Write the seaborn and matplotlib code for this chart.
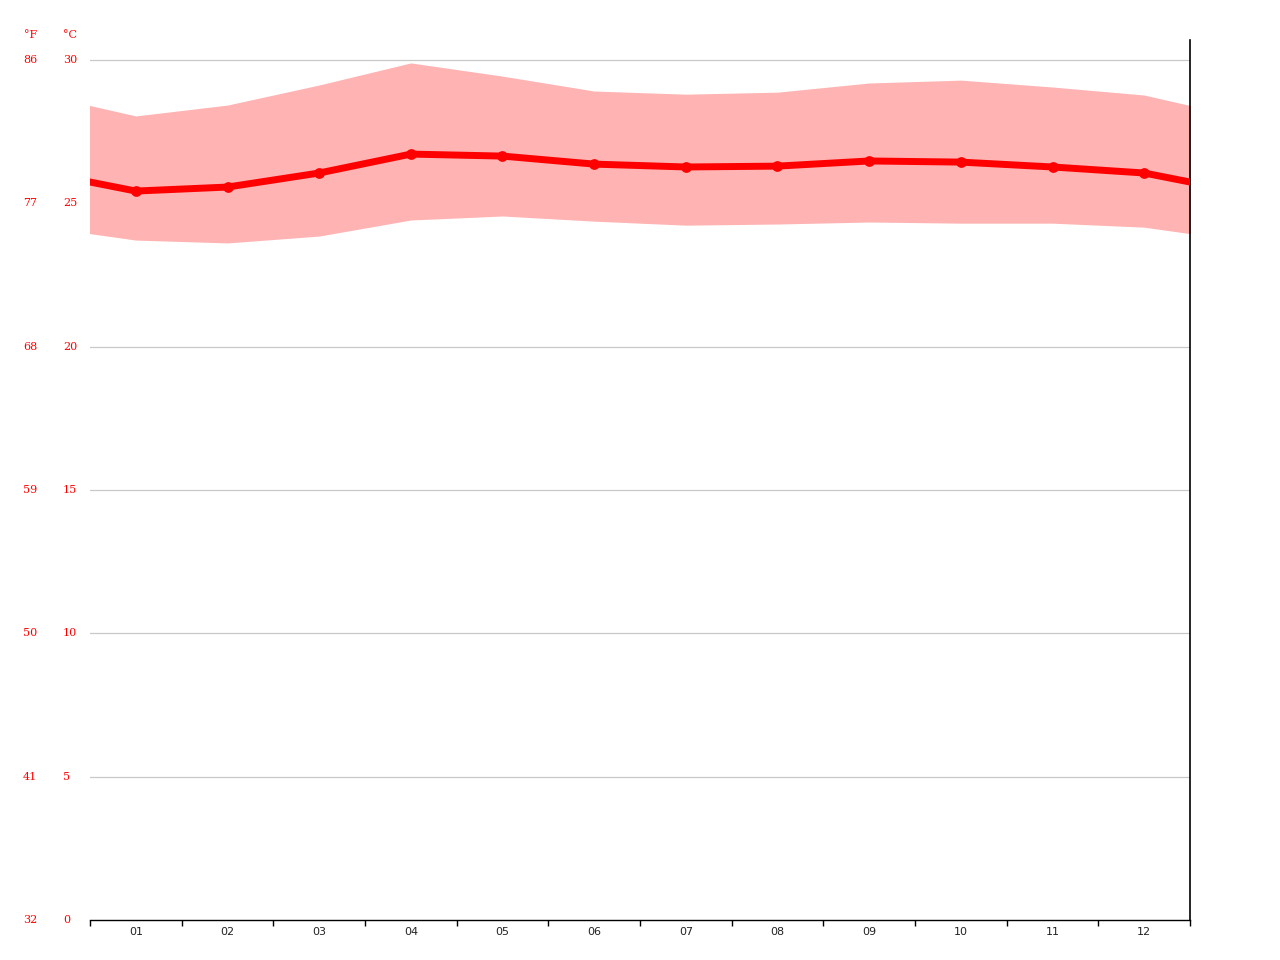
import matplotlib
matplotlib.use("Agg")
import matplotlib.pyplot as plt
import seaborn as sns
import numpy as np
import pandas as pd

months = ["01", "02", "03", "04", "05", "06", "07", "08", "09", "10", "11", "12"]
t_mean = [25.43, 25.57, 26.06, 26.72, 26.65, 26.37, 26.27, 26.30, 26.48, 26.44, 26.27, 26.06]
t_max = [28.05, 28.43, 29.13, 29.90, 29.44, 28.92, 28.81, 28.88, 29.20, 29.30, 29.06, 28.78]
t_min = [23.72, 23.62, 23.86, 24.42, 24.56, 24.38, 24.24, 24.28, 24.35, 24.31, 24.31, 24.17]
c_ticks = [0, 5, 10, 15, 20, 25, 30]
f_ticks = ["32", "41", "50", "59", "68", "77", "86"]

sns.set_style("white")
fig = plt.figure(figsize=(12.8, 9.6), dpi=100)
ax = fig.add_axes([90 / 1280, 40 / 960, 1100 / 1280, 880 / 960])

# wrap Dec before Jan and Jan after Dec so the curves reach the edges
xs = np.concatenate([[-0.5], np.arange(12) + 0.5, [12.5]])
wrap = lambda a: [a[-1]] + list(a) + [a[0]]
df = pd.DataFrame({"x": xs, "mean": wrap(t_mean), "max": wrap(t_max), "min": wrap(t_min)})

ax.fill_between(df["x"], df["min"], df["max"], color="#ffb3b3", linewidth=0, zorder=1)
sns.lineplot(data=df, x="x", y="mean", ax=ax, color="#ff0000", linewidth=5, zorder=3)
sns.scatterplot(x=np.arange(12) + 0.5, y=t_mean, ax=ax, color="#ff0000", s=60,
                linewidth=0, zorder=4)

ax.set_xlim(0, 12)
ax.set_ylim(0, 30.7)

for v in c_ticks[1:]:
    ax.axhline(v, color="#c8c8c8", linewidth=0.9, zorder=0)

ax.set_yticks([])
ax.set_ylabel("")
ax.set_xlabel("")
ax.set_xticks(np.arange(12) + 0.5)
ax.set_xticklabels(months, fontsize=8, color="#222222", family="DejaVu Sans")
ax.tick_params(axis="x", which="major", length=0, pad=5)
ax.set_xticks(np.arange(13), minor=True)
ax.tick_params(axis="x", which="minor", length=4, width=1, color="black", direction="out", bottom=True)

for s in ["left", "top"]:
    ax.spines[s].set_visible(False)
ax.spines["bottom"].set_color("black")
ax.spines["bottom"].set_linewidth(1)
ax.spines["right"].set_color("black")
ax.spines["right"].set_linewidth(1.2)

for c, f in zip(c_ticks, f_ticks):
    y_fig = (920 - c * (860 / 30)) / 960
    fig.text(63 / 1280, 1 - y_fig, str(c), color="red", fontsize=8, family="DejaVu Serif",
             ha="left", va="center")
    fig.text(23 / 1280, 1 - y_fig, f, color="red", fontsize=8, family="DejaVu Serif",
             ha="left", va="center")
fig.text(24 / 1280, 1 - 35 / 960, "°F", color="red", fontsize=8, family="DejaVu Serif", ha="left", va="center")
fig.text(63 / 1280, 1 - 35 / 960, "°C", color="red", fontsize=8, family="DejaVu Serif", ha="left", va="center")

fig.savefig("out.png", dpi=100)
